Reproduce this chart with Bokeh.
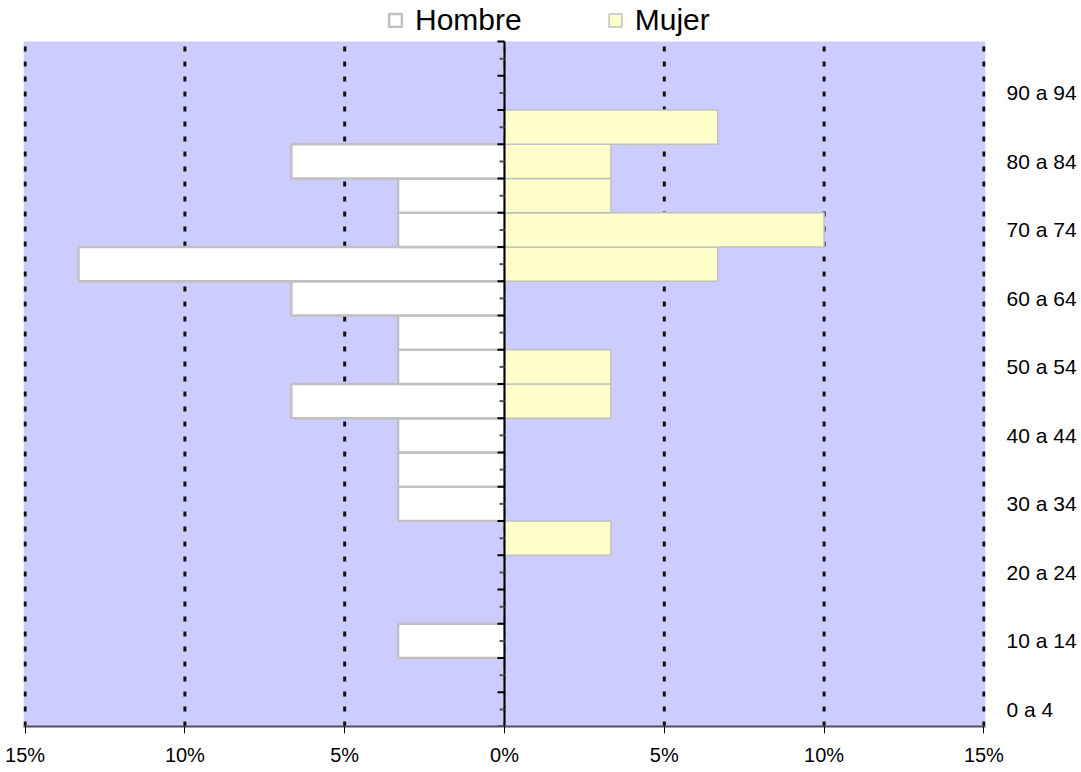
from bokeh.plotting import figure
from bokeh.models import (Range1d, LinearAxis, FixedTicker, Legend, LegendItem,
                          BoxAnnotation, ColumnDataSource)
from bokeh.embed import file_html
from bokeh.resources import INLINE

# ---- data ----
age_groups = ["0 a 4", "5 a 9", "10 a 14", "15 a 19", "20 a 24", "25 a 29",
              "30 a 34", "35 a 39", "40 a 44", "45 a 49", "50 a 54", "55 a 59",
              "60 a 64", "65 a 69", "70 a 74", "75 a 79", "80 a 84", "85 a 89",
              "90 a 94", "95 a 99"]
hombre = [0, 0, 3.33, 0, 0, 0, 3.33, 3.33, 3.33, 6.67, 3.33, 3.33,
          6.67, 13.33, 3.33, 3.33, 6.67, 0, 0, 0]
mujer = [0, 0, 0, 0, 0, 3.33, 0, 0, 0, 3.33, 3.33, 0,
         0, 6.67, 10.0, 3.33, 3.33, 6.67, 0, 0]
x_ticks = [-15, -10, -5, 0, 5, 10, 15]
x_tick_labels = ["15%", "10%", "5%", "0%", "5%", "10%", "15%"]

FONT = "Liberation Sans"
n = len(age_groups)
idx = list(range(n))
pad = 0.05
FW = 962
DATA_H = 685
EXTRA = 41  # extra pixels at the top for the legend
FH = DATA_H + EXTRA
row_px = DATA_H / n

p = figure(frame_width=FW, frame_height=FH, output_backend="svg", toolbar_location=None,
           x_range=Range1d(-15 - pad, 15 + pad), y_range=Range1d(0, n + EXTRA / row_px),
           min_border_left=23, min_border_right=84, min_border_top=0,
           min_border_bottom=36, y_axis_location=None)
p.background_fill_color = "white"
p.border_fill_color = "white"
p.outline_line_color = None
p.grid.grid_line_color = None

# plot area background (only over the data rows)
p.add_layout(BoxAnnotation(bottom=0, top=n, left=-15 - pad, right=15 + pad,
                           fill_color="#CCCCFF", fill_alpha=1, line_color=None,
                           level="underlay"))

# dotted vertical gridlines
p.segment(x0=x_ticks, x1=x_ticks, y0=[0] * len(x_ticks), y1=[n] * len(x_ticks),
          line_color="#111111", line_width=3, line_dash="5 10")

# bottom axis
xa = p.xaxis[0]
xa.ticker = FixedTicker(ticks=x_ticks)
xa.major_label_overrides = {t: l for t, l in zip(x_ticks, x_tick_labels)}
xa.major_label_text_font = FONT
xa.major_label_text_font_size = "20px"
xa.major_label_text_color = "black"
xa.axis_line_color = "#505060"
xa.axis_line_width = 2
xa.major_tick_line_color = "black"
xa.major_tick_in = 0
xa.major_tick_out = 7
xa.minor_tick_line_color = None
xa.major_label_standoff = 10

# right axis with age labels
ra = LinearAxis(ticker=FixedTicker(ticks=[i + 0.5 for i in idx if i % 2 == 0]),
                major_label_overrides={i + 0.5: age_groups[i] for i in idx if i % 2 == 0})
ra.axis_line_color = None
ra.major_tick_line_color = None
ra.minor_tick_line_color = None
ra.major_label_text_font = FONT
ra.major_label_text_font_size = "21px"
ra.major_label_text_color = "black"
ra.major_label_standoff = 15
p.add_layout(ra, "right")

# bars
src = ColumnDataSource(dict(bottom=idx, top=[i + 1 for i in idx],
                            h=[-v for v in hombre], m=mujer))
rh = p.quad(left="h", right=0, bottom="bottom", top="top", source=src,
            fill_color="white", line_color="#C0C0C0", line_width=2.5)
rm = p.quad(left=0, right="m", bottom="bottom", top="top", source=src,
            fill_color="#FFFFCC", line_color="#C0C0C0", line_width=1.5)

# central vertical axis with ticks
p.segment(x0=[0], x1=[0], y0=[0], y1=[n], line_color="black", line_width=2)
px_per_unit = FW / (30.0 + 2 * pad)
bnd = [float(i) for i in range(n + 1)]
mid = [i + 0.5 for i in idx]
p.segment(x0=[-7 / px_per_unit] * len(bnd), x1=[0] * len(bnd), y0=bnd, y1=bnd,
          line_color="black", line_width=2)
p.segment(x0=[-5 / px_per_unit] * len(mid), x1=[0] * len(mid), y0=mid, y1=mid,
          line_color="#555555", line_width=2)

# legend (in the top extra strip)
legend = Legend(items=[LegendItem(label="Hombre", renderers=[rh]),
                       LegendItem(label="Mujer", renderers=[rm])],
                orientation="horizontal", location=(364, FH - 37),
                label_text_font=FONT, label_text_font_size="30px",
                label_text_color="black", glyph_width=16, glyph_height=16,
                spacing=85, padding=0, margin=0, border_line_color=None,
                background_fill_alpha=0, label_standoff=12, label_height=30)
p.add_layout(legend)

open("out.html", "w").write(file_html(p, INLINE))
